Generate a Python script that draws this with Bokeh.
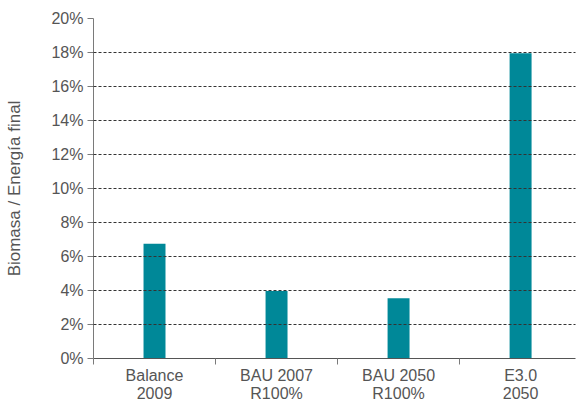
from bokeh.plotting import figure
from bokeh.models import Range1d, FixedTicker, PrintfTickFormatter, ColumnDataSource
from bokeh.embed import file_html
from bokeh.resources import INLINE

categories = ["Balance\n2009", "BAU 2007\nR100%", "BAU 2050\nR100%", "E3.0\n2050"]
values = [6.75, 3.97, 3.55, 17.95]
y_ticks = [0, 2, 4, 6, 8, 10, 12, 14, 16, 18, 20]

FONT = "Liberation Sans"
TXT = "#555555"

xs = [i + 0.5 for i in range(len(categories))]
src = ColumnDataSource(dict(x=xs, top=values))

p = figure(width=577, height=404, x_range=Range1d(0, 3.95), y_range=Range1d(0, 20),
           output_backend="svg", toolbar_location=None,
           min_border_left=93, min_border_right=2, min_border_top=18, min_border_bottom=46)
p.outline_line_color = None
p.background_fill_color = "white"

p.vbar(x="x", top="top", width=0.18, bottom=0, source=src,
       fill_color="#008898", line_color=None)

# y axis
p.yaxis.ticker = FixedTicker(ticks=y_ticks)
p.yaxis.formatter = PrintfTickFormatter(format="%d%%")
p.yaxis.axis_label = "Biomasa / Energía final"
p.yaxis.axis_label_text_font = FONT
p.yaxis.axis_label_text_font_size = "17px"
p.yaxis.axis_label_text_font_style = "normal"
p.yaxis.axis_label_text_color = TXT
p.yaxis.axis_label_standoff = 24
p.yaxis.major_label_text_font = FONT
p.yaxis.major_label_text_font_size = "16px"
p.yaxis.major_label_text_color = TXT
p.yaxis.major_label_standoff = 4
p.yaxis.major_tick_out = 6
p.yaxis.major_tick_in = 0
p.yaxis.minor_tick_out = 0
p.yaxis.minor_tick_in = 0
p.yaxis.axis_line_color = "#7a7a7a"
p.yaxis.major_tick_line_color = "#7a7a7a"

# x axis
p.xaxis.ticker = FixedTicker(ticks=xs, minor_ticks=list(range(len(categories) + 1)))
p.xaxis.major_label_overrides = {x: c for x, c in zip(xs, categories)}
p.xaxis.major_label_text_font = FONT
p.xaxis.major_label_text_font_size = "16px"
p.xaxis.major_label_text_color = TXT
p.xaxis.major_label_text_line_height = 1.07
p.xaxis.major_label_standoff = 2
p.xaxis.major_tick_out = 0
p.xaxis.major_tick_in = 0
p.xaxis.minor_tick_out = 6
p.xaxis.minor_tick_in = 0
p.xaxis.axis_line_color = "#555555"
p.xaxis.minor_tick_line_color = "#7a7a7a"

# grid
p.xgrid.visible = False
p.ygrid.ticker = FixedTicker(ticks=y_ticks[1:])
p.ygrid.grid_line_color = "#333333"
p.ygrid.grid_line_dash = "3 2"
p.ygrid.grid_line_width = 1
p.ygrid.level = "overlay"

open("out.html", "w").write(file_html(p, INLINE))
